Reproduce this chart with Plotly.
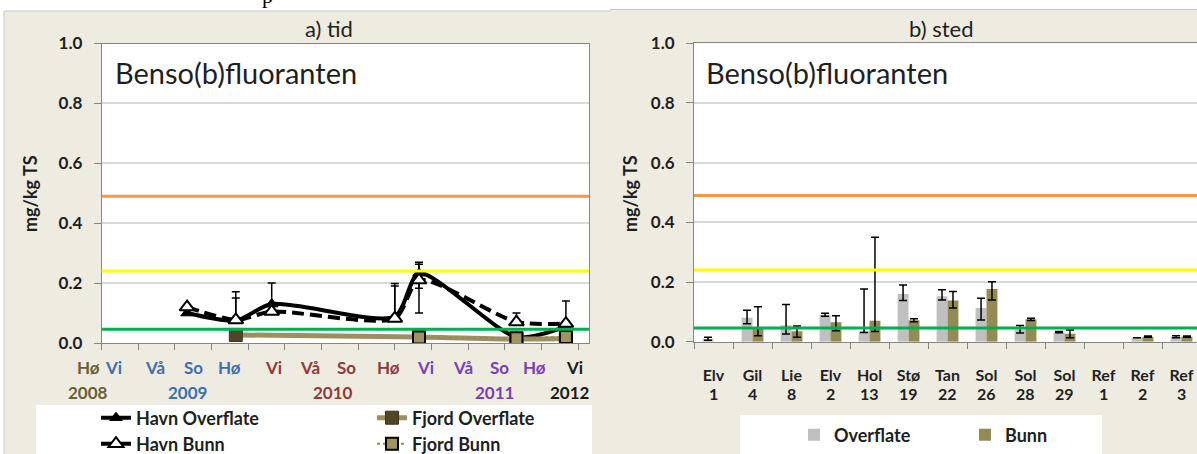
import plotly.graph_objects as go

# ---------------- data: panel a) tid ----------------
# sampling time, in seasons counted from autumn 2008 (tick 0)
time_x = [2.33, 3.66, 4.64, 8.0, 8.66, 11.32, 12.67]
havn_overflate = [0.100, 0.075, 0.130, 0.088, 0.233, 0.020, 0.055]
havn_overflate_err_plus = [0, 0.075, 0.070, 0.102, 0.037, 0, 0]
havn_overflate_err_minus = [0, 0, 0, 0, 0.050, 0, 0]
havn_bunn = [0.120, 0.077, 0.105, 0.082, 0.210, 0.070, 0.065]
havn_bunn_err_plus = [0, 0.094, 0, 0.117, 0.053, 0.030, 0.075]
havn_bunn_err_minus = [0, 0, 0, 0, 0.110, 0, 0]
fjord_overflate_x = [3.66, 8.66, 11.32, 12.67]
fjord_overflate = [0.027, 0.020, 0.013, 0.015]
fjord_bunn_x = [8.66, 11.32, 12.67]
fjord_bunn = [0.018, 0.016, 0.020]

season_ticks = list(range(14))
season_labels = ["Hø", "Vi", "Vå", "So", "Hø", "Vi", "Vå", "So", "Hø", "Vi", "Vå", "So", "Hø", "Vi"]
season_label_x = [-0.35, 0.33, 1.46, 2.50, 3.50, 4.70, 5.69, 6.69, 7.84, 8.83, 9.87, 10.87, 11.81, 12.90]
season_year = [2008, 2009, 2009, 2009, 2009, 2010, 2010, 2010, 2010, 2011, 2011, 2011, 2011, 2012]
year_labels = ["2008", "2009", "2010", "2011", "2012"]
year_label_x = [-0.37, 2.35, 6.32, 10.71, 12.78]

# ---------------- data: panel b) sted ----------------
site_names = ["Elv", "Gil", "Lie", "Elv", "Hol", "Stø", "Tan", "Sol", "Sol", "Sol", "Ref", "Ref", "Ref"]
site_numbers = ["1", "4", "8", "2", "13", "19", "22", "26", "28", "29", "1", "2", "3"]
sites = [f"{n} {k}" for n, k in zip(site_names, site_numbers)]
overflate = [0.010, 0.080, 0.055, 0.090, 0.035, 0.160, 0.152, 0.113, 0.040, 0.032, None, 0.013, 0.017]
overflate_err_plus = [0.005, 0.025, 0.070, 0.005, 0.142, 0.030, 0.022, 0.033, 0.014, 0.002, 0, 0, 0.003]
overflate_err_minus = [0.005, 0.020, 0.029, 0.005, 0.004, 0.022, 0.012, 0.040, 0.011, 0.002, 0, 0, 0.004]
bunn = [None, 0.045, 0.035, 0.065, 0.070, 0.072, 0.138, 0.177, 0.075, 0.027, None, 0.017, 0.017]
bunn_err_plus = [0, 0.072, 0.018, 0.022, 0.280, 0.005, 0.030, 0.024, 0.004, 0.012, 0, 0.002, 0.002]
bunn_err_minus = [0, 0.025, 0.020, 0.028, 0.036, 0.005, 0.025, 0.037, 0.004, 0.014, 0, 0.002, 0.002]

# classification limits (mg/kg TS)
class_limits = [0.046, 0.24, 0.49]

# ---------------- styles ----------------
W, H = 1197, 454
FONT = "Lato"
TXT = "#1F1F1F"
BEIGE = "#EEECE1"
OLIVE = "#948A54"
GREY_BAR = "#C0C0C0"
AXIS_GREY = "#868686"
GRID = "#D9D9D9"
limit_colors = ["#00B050", "#FFFF00", "#F79646"]
year_colors = {2008: "#6B5E34", 2009: "#3F6FAE", 2010: "#8E3B3B", 2011: "#7B3FB5", 2012: "#1A1A1A"}

XA_DOMAIN = [101.7 / W, 589 / W]
XA_RANGE = [0, 13.3]


def px_x(v):
    return v / W


def px_y(v):
    return 1 - v / H


def xa_to_paper(v):
    # position along panel a's time axis, as a fraction of the page width
    return XA_DOMAIN[0] + (v - XA_RANGE[0]) / (XA_RANGE[1] - XA_RANGE[0]) * (XA_DOMAIN[1] - XA_DOMAIN[0])


fig = go.Figure()

err_style = dict(type="data", symmetric=False, color="black", thickness=1.5, width=4)

# ---- panel a traces ----
fig.add_trace(go.Scatter(
    x=time_x, y=havn_overflate, name="Havn Overflate", mode="lines+markers",
    line=dict(color="black", width=4, shape="spline", smoothing=0.7),
    marker=dict(symbol="triangle-up", size=11, color="black", line=dict(color="black", width=1)),
    error_y=dict(err_style, array=havn_overflate_err_plus, arrayminus=havn_overflate_err_minus),
    xaxis="x", yaxis="y", legend="legend"))
fig.add_trace(go.Scatter(
    x=time_x, y=havn_bunn, name="Havn Bunn", mode="lines+markers",
    line=dict(color="black", width=4, shape="spline", smoothing=0.7, dash="12px,6px"),
    marker=dict(symbol="triangle-up", size=13, color="white", line=dict(color="black", width=2)),
    error_y=dict(err_style, array=havn_bunn_err_plus, arrayminus=havn_bunn_err_minus),
    xaxis="x", yaxis="y", legend="legend2"))
fig.add_trace(go.Scatter(
    x=fjord_overflate_x, y=fjord_overflate, name="Fjord Overflate", mode="lines+markers",
    line=dict(color="#9D9060", width=5, shape="spline", smoothing=0.7),
    marker=dict(symbol="square", size=13, color="#524628", line=dict(color="#3A3020", width=1)),
    xaxis="x", yaxis="y", legend="legend3"))
fig.add_trace(go.Scatter(
    x=fjord_bunn_x, y=fjord_bunn, name="Fjord Bunn", mode="lines+markers",
    line=dict(color=OLIVE, width=2, dash="dot"),
    marker=dict(symbol="square", size=12, color="#A09460", line=dict(color="black", width=2)),
    xaxis="x", yaxis="y", legend="legend4"))

# ---- panel b traces ----
fig.add_trace(go.Bar(
    x=sites, y=overflate, name="Overflate", marker=dict(color=GREY_BAR, line=dict(width=0)),
    error_y=dict(err_style, array=overflate_err_plus, arrayminus=overflate_err_minus),
    xaxis="x2", yaxis="y2", legend="legend5"))
fig.add_trace(go.Bar(
    x=sites, y=bunn, name="Bunn", marker=dict(color=OLIVE, line=dict(width=0)),
    error_y=dict(err_style, array=bunn_err_plus, arrayminus=bunn_err_minus),
    xaxis="x2", yaxis="y2", legend="legend6"))

# ---------------- shapes ----------------
shapes = []
# panel backgrounds
shapes.append(dict(type="rect", xref="paper", yref="paper", x0=px_x(4), x1=px_x(612), y0=0, y1=px_y(11),
                   fillcolor=BEIGE, line=dict(width=0), layer="below"))
shapes.append(dict(type="rect", xref="paper", yref="paper", x0=px_x(610), x1=1, y0=0, y1=px_y(9.5),
                   fillcolor=BEIGE, line=dict(width=0), layer="below"))
shapes.append(dict(type="line", xref="paper", yref="paper", x0=px_x(4), x1=px_x(611), y0=px_y(11), y1=px_y(11),
                   line=dict(color="#C8C8C8", width=1), layer="below"))
shapes.append(dict(type="line", xref="paper", yref="paper", x0=px_x(610), x1=1, y0=px_y(9.5), y1=px_y(9.5),
                   line=dict(color="#C8C8C8", width=1), layer="below"))
shapes.append(dict(type="line", xref="paper", yref="paper", x0=px_x(4), x1=px_x(4), y0=0, y1=px_y(11),
                   line=dict(color="#C8C8C8", width=1), layer="below"))
# white legend boxes
shapes.append(dict(type="rect", xref="paper", yref="paper", x0=px_x(36), x1=px_x(592), y0=0, y1=px_y(405),
                   fillcolor="white", line=dict(width=0), layer="below"))
shapes.append(dict(type="rect", xref="paper", yref="paper", x0=px_x(740), x1=px_x(1102), y0=0, y1=px_y(415),
                   fillcolor="white", line=dict(width=0), layer="below"))
# white plot areas
for xa, ya in (("x", "y"), ("x2", "y2")):
    shapes.append(dict(type="rect", xref=f"{xa} domain", yref=f"{ya} domain", x0=0, x1=1, y0=0, y1=1,
                       fillcolor="white", line=dict(width=0), layer="below"))
# classification limit lines
for xa, ya in (("x", "y"), ("x2", "y2")):
    for lim, col in zip(class_limits, limit_colors):
        shapes.append(dict(type="line", xref=f"{xa} domain", yref=ya, x0=0, x1=1, y0=lim, y1=lim,
                           line=dict(color=col, width=3), layer="above"))

# ---------------- annotations ----------------
ann = []
for lab, xv, yr in zip(season_labels, season_label_x, season_year):
    ann.append(dict(text=lab, xref="paper", yref="paper", x=xa_to_paper(xv), y=px_y(367), showarrow=False,
                    xanchor="center", yanchor="middle",
                    font=dict(family=FONT, size=17, color=year_colors[yr], weight="bold")))
for lab, xv in zip(year_labels, year_label_x):
    ann.append(dict(text=lab, xref="paper", yref="paper", x=xa_to_paper(xv), y=px_y(392), showarrow=False,
                    xanchor="center", yanchor="middle",
                    font=dict(family=FONT, size=17, color=year_colors[int(lab)], weight="bold")))
for site, num in zip(sites, site_numbers):
    ann.append(dict(text=num, xref="x2", yref="paper", x=site, y=px_y(393), showarrow=False,
                    xanchor="center", yanchor="middle",
                    font=dict(family=FONT, size=16, color=TXT, weight="bold")))
for xc, title in ((329, "a) tid"), (941, "b) sted")):
    ann.append(dict(text=title, xref="paper", yref="paper", x=px_x(xc), y=px_y(28), showarrow=False,
                    xanchor="center", yanchor="middle", font=dict(family=FONT, size=22, color=TXT)))
for xl in (113, 704):
    ann.append(dict(text="Benso(b)fluoranten", xref="paper", yref="paper", x=px_x(xl), y=px_y(72),
                    showarrow=False, xanchor="left", yanchor="middle",
                    font=dict(family=FONT, size=29, color=TXT)))
for xc in (30, 630):
    ann.append(dict(text="mg/kg TS", xref="paper", yref="paper", x=px_x(xc), y=px_y(194),
                    showarrow=False, textangle=-90, xanchor="center", yanchor="middle",
                    font=dict(family=FONT, size=18, color=TXT, weight="bold")))
ann.append(dict(text="p", xref="paper", yref="paper", x=px_x(267), y=px_y(10), showarrow=False,
                xanchor="center", yanchor="bottom", font=dict(family="Liberation Serif", size=22, color="black")))

# ---------------- axes ----------------
yaxis_common = dict(range=[0, 1], dtick=0.2, tick0=0, tickformat=".1f", showgrid=True, gridcolor=GRID,
                    gridwidth=1.5, zeroline=False, showline=True, mirror=True, linecolor=AXIS_GREY,
                    linewidth=1, ticks="outside", ticklen=7, tickcolor=AXIS_GREY,
                    tickfont=dict(family=FONT, size=17, color=TXT, weight="bold"), ticklabelstandoff=8)

layout = dict(
    width=W, height=H, autosize=False, margin=dict(l=0, r=0, t=0, b=0, autoexpand=False),
    paper_bgcolor="white", plot_bgcolor="rgba(0,0,0,0)", showlegend=True,
    barmode="group", bargap=0.44, bargroupgap=0,
    xaxis=dict(domain=XA_DOMAIN, range=XA_RANGE, tickvals=season_ticks,
               showticklabels=False, ticks="outside", ticklen=6, tickcolor=AXIS_GREY,
               showgrid=False, zeroline=False, showline=True, mirror=True, linecolor=AXIS_GREY,
               linewidth=1, anchor="y"),
    yaxis=dict(yaxis_common, domain=[px_y(343), px_y(43.5)], anchor="x"),
    xaxis2=dict(domain=[px_x(694), 1.0], type="category", range=[-0.5, 12.397],
                tickvals=sites, ticktext=site_names, tickson="boundaries",
                ticks="outside", ticklen=6, tickcolor=AXIS_GREY,
                tickfont=dict(family=FONT, size=16, color=TXT, weight="bold"), ticklabelstandoff=19,
                showgrid=False, zeroline=False, showline=True, mirror=True, linecolor=AXIS_GREY,
                linewidth=1, anchor="y2"),
    yaxis2=dict(yaxis_common, domain=[px_y(341.7), px_y(43.3)], anchor="x2"),
    annotations=ann,
    shapes=shapes,
)

legend_font = dict(family=FONT, size=18, color=TXT, weight="bold")
leg_pos = {"legend": (96, 418), "legend2": (96, 444), "legend3": (372, 418), "legend4": (372, 444),
           "legend5": (794, 435), "legend6": (965, 435)}
for key, (lx, ly) in leg_pos.items():
    layout[key] = dict(x=px_x(lx), y=px_y(ly), xanchor="left", yanchor="middle", bgcolor="rgba(0,0,0,0)",
                       borderwidth=0, font=legend_font, orientation="v", itemclick=False, visible=True)

fig.update_layout(**layout)
fig.write_html("out.html", config={"displayModeBar": False},
               post_script="document.body.style.margin='0px';")
